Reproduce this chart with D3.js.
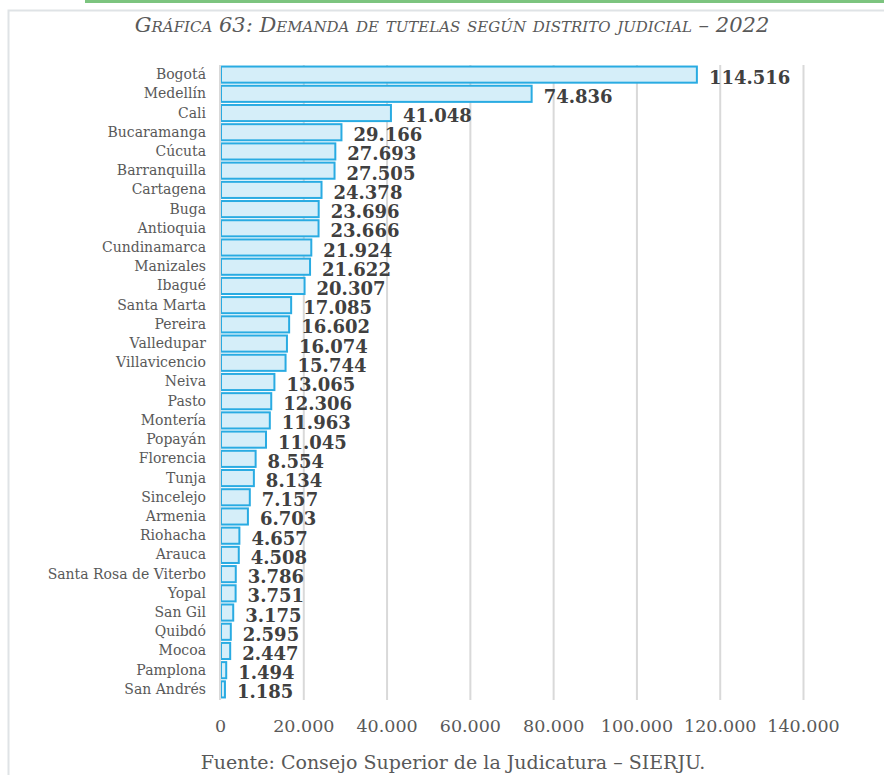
<!DOCTYPE html>
<html><head><meta charset="utf-8">
<script src="https://cdn.jsdelivr.net/npm/d3@7"></script>
<style>body{margin:0;background:#fff}svg{display:block}</style>
</head><body>
<svg id="c" width="884" height="775"></svg>
<script>
const categories = ["Bogotá","Medellín","Cali","Bucaramanga","Cúcuta","Barranquilla","Cartagena","Buga","Antioquia","Cundinamarca","Manizales","Ibagué","Santa Marta","Pereira","Valledupar","Villavicencio","Neiva","Pasto","Montería","Popayán","Florencia","Tunja","Sincelejo","Armenia","Riohacha","Arauca","Santa Rosa de Viterbo","Yopal","San Gil","Quibdó","Mocoa","Pamplona","San Andrés"];
const values = [114516,74836,41048,29166,27693,27505,24378,23696,23666,21924,21622,20307,17085,16602,16074,15744,13065,12306,11963,11045,8554,8134,7157,6703,4657,4508,3786,3751,3175,2595,2447,1494,1185];
const tickValues = [0,20000,40000,60000,80000,100000,120000,140000];
const title = "Gráfica 63: Demanda de tutelas según distrito judicial – 2022";
const source = "Fuente: Consejo Superior de la Judicatura – SIERJU.";

const fmt = v => d3.format(",")(v).replace(/,/g, ".");
const svg = d3.select("#c");
const serif = "'DejaVu Serif', 'Liberation Serif', serif";

// top green rule and frame
svg.append("rect").attr("x",85).attr("y",0).attr("width",799).attr("height",3).attr("fill","#7cc47f");
svg.append("path").attr("d","M8.5,775 V10.5 H884").attr("fill","none").attr("stroke","#dfe3e6").attr("stroke-width",2);

svg.append("text").attr("x",452).attr("y",32).attr("text-anchor","middle")
  .attr("font-family",serif).attr("font-style","italic").attr("font-variant","small-caps")
  .attr("font-size",21).attr("fill","#595959").text(title);

const x = d3.scaleLinear().domain([0,140000]).range([220,803]);
const y = d3.scaleBand().domain(categories).range([65,699]).paddingInner(0.16).paddingOuter(0.08);

// gridlines
svg.append("g").selectAll("line").data(tickValues.slice(1)).join("line")
  .attr("x1",d=>x(d)+0.5).attr("x2",d=>x(d)+0.5).attr("y1",65).attr("y2",700)
  .attr("stroke","#d9d9d9").attr("stroke-width",2);

// x axis labels
const xAxis = d3.axisBottom(x).tickValues(tickValues).tickSize(0).tickFormat(fmt);
const gx = svg.append("g").attr("transform","translate(0,717)").call(xAxis);
gx.select(".domain").remove();
gx.selectAll("text").attr("font-family",serif).attr("font-size",17.5).attr("fill","#595959");

// bars
svg.append("g").selectAll("rect").data(values).join("rect")
  .attr("x",x(0)+1).attr("y",(d,i)=>y(categories[i]))
  .attr("width",d=>x(d)-x(0)-1).attr("height",y.bandwidth())
  .attr("fill","#d5eef9").attr("stroke","#29abe2").attr("stroke-width",2);

// y axis line
svg.append("line").attr("x1",220).attr("x2",220).attr("y1",65).attr("y2",700)
  .attr("stroke","#d9d9d9").attr("stroke-width",2);

// category labels
const yAxis = d3.axisLeft(y).tickSize(0).tickPadding(14);
const gy = svg.append("g").attr("transform","translate(220,0)").call(yAxis);
gy.select(".domain").remove();
gy.selectAll("text").attr("font-family",serif).attr("font-size",14).attr("fill","#595959");

// value labels
svg.append("g").selectAll("text").data(values).join("text")
  .attr("x",d=>x(d)+12).attr("y",(d,i)=>y(categories[i])+y.bandwidth()/2+9)
  .attr("font-family",serif).attr("font-weight","bold").attr("font-size",18)
  .attr("fill","#404040").text(fmt);

svg.append("text").attr("x",453).attr("y",769).attr("text-anchor","middle")
  .attr("font-family",serif).attr("font-size",19).attr("fill","#595959").text(source);
</script>
</body></html>
